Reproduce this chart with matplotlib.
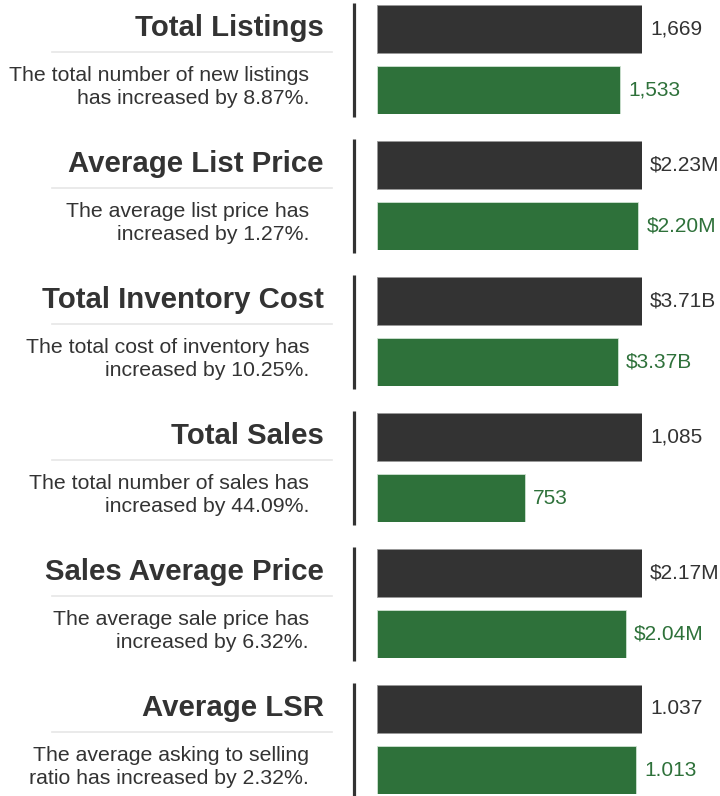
import matplotlib.pyplot as plt
from matplotlib.lines import Line2D

# ---- data ----
titles = ["Total Listings", "Average List Price", "Total Inventory Cost",
          "Total Sales", "Sales Average Price", "Average LSR"]
notes = ["The total number of new listings\nhas increased by 8.87%.",
         "The average list price has\nincreased by 1.27%.",
         "The total cost of inventory has\nincreased by 10.25%.",
         "The total number of sales has\nincreased by 44.09%.",
         "The average sale price has\nincreased by 6.32%.",
         "The average asking to selling\nratio has increased by 2.32%."]
previous = [1669, 2.23, 3.71, 1085, 2.17, 1.037]
current = [1533, 2.20, 3.37, 607, 2.04, 1.013]   # bar lengths as drawn
prev_labels = ["1,669", "$2.23M", "$3.71B", "1,085", "$2.17M", "1.037"]
curr_labels = ["1,533", "$2.20M", "$3.37B", "753", "$2.04M", "1.013"]

DARK = "#333333"
GREEN = "#2e713a"
TEXT = "#333333"

W, H = 720, 796
plt.rcParams["font.family"] = ["Liberation Sans", "DejaVu Sans"]
fig = plt.figure(figsize=(W / 100, H / 100), dpi=100)


def fx(px):
    return px / W


def fy(py):
    return 1 - py / H


for i in range(len(titles)):
    top = 5 + i * 136
    # bar axes
    ax = fig.add_axes([fx(377), fy(top + 109), fx(642) - fx(377), 109 / H])
    ax.set_xlim(0, previous[i])
    ax.set_ylim(-24 / 61, 85 / 61)
    ax.axis("off")
    h = 48 / 61
    ax.barh(1, previous[i], height=h, color=DARK, edgecolor="#999999", linewidth=0.6)
    ax.barh(0, current[i], height=h, color=GREEN, edgecolor="#cfe3d2", linewidth=0.6)
    ax.annotate(prev_labels[i], (previous[i], 1), xytext=(5.8, 0), textcoords="offset points",
                va="center", ha="left", fontsize=15, color=TEXT, annotation_clip=False)
    ax.annotate(curr_labels[i], (current[i], 0), xytext=(5.8, 0), textcoords="offset points",
                va="center", ha="left", fontsize=15, color=GREEN, annotation_clip=False)

    # vertical divider
    fig.add_artist(Line2D([fx(353.5), fx(353.5)], [fy(top - 2), fy(top + 112)],
                          color=DARK, linewidth=2.3, solid_capstyle="butt"))
    # title, rule, note
    fig.text(fx(324), fy(top + 23), titles[i], ha="right", va="center",
             fontsize=21.2, fontweight="bold", color=TEXT)
    fig.add_artist(Line2D([fx(52), fx(332)], [fy(top + 47), fy(top + 47)],
                          color="#e6e6e6", linewidth=1.2))
    fig.text(fx(309), fy(top + 82), notes[i], ha="right", va="center",
             multialignment="right", fontsize=15.3, color=TEXT, linespacing=1.29)

fig.savefig("out.png", dpi=100, facecolor="white")
